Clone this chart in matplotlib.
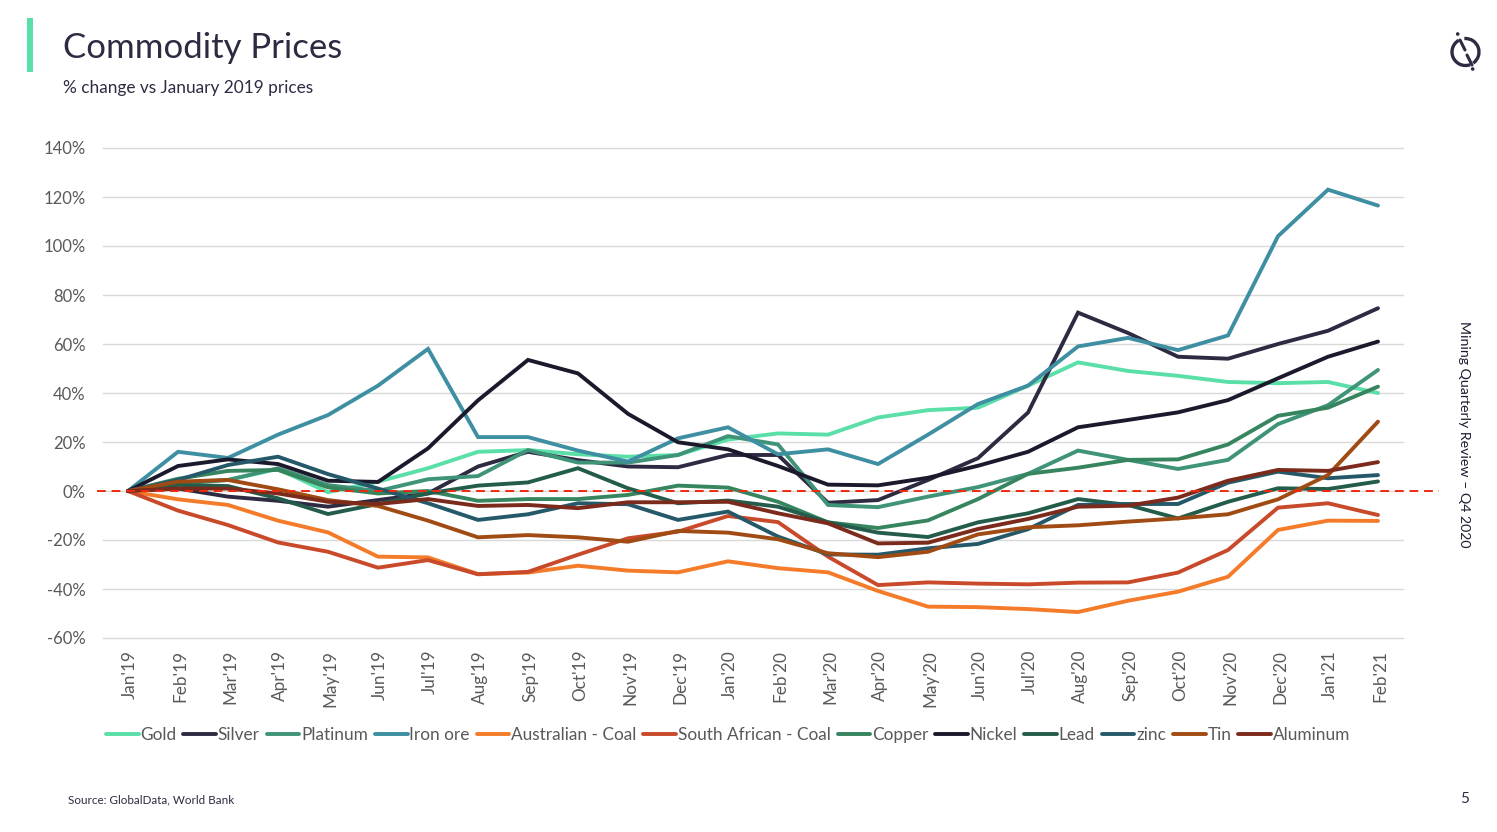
import matplotlib
matplotlib.use("Agg")
import matplotlib.pyplot as plt
from matplotlib.patches import Arc, Rectangle, Circle
from matplotlib.transforms import ScaledTranslation

plt.rcParams['font.family'] = ['Lato', 'DejaVu Sans']

months = ["Jan'19","Feb'19","Mar'19","Apr'19","May'19","Jun'19","Jul'19","Aug'19","Sep'19","Oct'19","Nov'19","Dec'19",
          "Jan'20","Feb'20","Mar'20","Apr'20","May'20","Jun'20","Jul'20","Aug'20","Sep'20","Oct'20","Nov'20","Dec'20","Jan'21","Feb'21"]

gold = [0,3.5,4.5,9,-0.5,3.8,9.3,16,16.7,15,14,14.7,21,23.5,23,30,33,34,43,52.5,49,47,44.5,44,44.5,40]
silver = [0,1,-2.3,-4,-6.4,-3.7,-1,10,16,12.6,10,9.7,14.7,14.7,-4.8,-3.7,4.5,13.4,32,72.8,64.5,54.8,54,60,65.4,74.6]
platinum = [0,3,4.5,9.3,2.4,0,4.8,6.1,16.7,11.6,11.6,14.7,22.4,19,-5.7,-6.6,-2.3,1.6,7,16.5,12.7,9,12.7,27.3,35,49.4]
iron_ore = [0,16,13.5,23,31,43,58,22,22,16.5,12,21.5,26,15,17,11,23,35.5,43,59,62.5,57.5,63.5,104,123,116.5]
aus_coal = [0,-3.4,-5.7,-12.1,-16.9,-26.8,-27.1,-33.9,-33.3,-30.5,-32.5,-33.2,-28.7,-31.5,-33.2,-40.8,-47.2,-47.4,-48.2,-49.4,-44.8,-41.1,-35,-15.9,-12.1,-12.2]
sa_coal = [0,-8,-13.9,-21,-24.8,-31.3,-28.2,-34,-33,-26,-19.3,-16.6,-10.2,-12.7,-26.8,-38.4,-37.3,-37.8,-38.1,-37.4,-37.3,-33.3,-24.1,-6.8,-5,-9.8]
copper = [0,5,8.2,8.6,1.5,-1,0,-4,-3.3,-3.3,-1.6,2.2,1.4,-4.4,-12.8,-15.1,-12,-3.3,7,9.5,12.7,12.9,19,30.7,34,42.6]
nickel = [0,10.2,12.9,11,4.2,3.7,17.4,37,53.5,48,31.5,19.9,17,10.2,2.6,2.3,5.4,10.3,16,26,29,32.1,37.1,46,54.8,61]
lead = [0,2.5,2,-3,-9.4,-5.3,-1,2.2,3.5,9.3,1.1,-5,-3.9,-6.4,-12.8,-17,-18.8,-12.8,-9.1,-3.3,-5.7,-11.2,-4.4,1.1,0.8,3.9]
zinc = [0,4.5,10.6,14,6.9,1,-5,-11.8,-9.5,-5,-5.4,-11.8,-8.4,-18.6,-25.9,-26,-23.4,-21.6,-15.6,-5.7,-5.3,-5.3,3.4,7.9,5.2,6.5]
tin = [0,3.8,4.5,0.7,-3.7,-6.1,-12.1,-18.9,-18,-18.9,-20.7,-16.3,-17,-19.7,-25.4,-27,-24.8,-17.7,-14.8,-14,-12.5,-11.2,-9.5,-3.4,6.5,28.3]
aluminum = [0,1,1,-1,-4.4,-5.3,-3.3,-6.1,-5.7,-7,-4.6,-4.6,-4.4,-9.1,-13.2,-21.4,-21.1,-15.5,-11.4,-6.4,-6,-2.7,4.2,8.6,8.2,11.8]

names = ["Gold","Silver","Platinum","Iron ore","Australian - Coal","South African - Coal","Copper","Nickel","Lead","zinc","Tin","Aluminum"]
series = [gold,silver,platinum,iron_ore,aus_coal,sa_coal,copper,nickel,lead,zinc,tin,aluminum]
colors = ["#5ADFA8","#2E2A42","#3F9379","#3F8FA3","#F47B2A","#C94A2B","#36855F","#1A1A2C","#245C4B","#25596A","#A04B14","#7B2A1B"]
yticks = list(range(-60,141,20))

W, H = 1497, 832
fig = plt.figure(figsize=(W/100, H/100), dpi=100, facecolor="white")

# page furniture, in pixel coordinates
pg = fig.add_axes([0,0,1,1], zorder=0)
pg.set_xlim(0,W); pg.set_ylim(H,0); pg.axis("off")
pg.add_patch(Rectangle((27,18),6,54,color="#5ADFA8",lw=0))
pg.text(63,47.5,"Commodity Prices",fontsize=25,color="#2E2A42",va="center",ha="left")
pg.text(63,88,"% change vs January 2019 prices",fontsize=12.4,color="#2E2A42",va="center",ha="left")
pg.text(68,800,"Source: GlobalData, World Bank",fontsize=8.4,color="#2E2A42",va="center",ha="left")
pg.text(1465,799,"5",fontsize=11,color="#2E2A42",va="center",ha="center")
pg.text(1464,434,"Mining Quarterly Review – Q4 2020",fontsize=10.2,color="#1F1C30",rotation=270,va="center",ha="center")
lc = "#2E2A42"
cx, cy = 1465.5, 52
pg.add_patch(Arc((cx,cy),27,27,theta1=-95,theta2=55,lw=2.4,color=lc))
pg.add_patch(Arc((cx,cy),27,27,theta1=70,theta2=240,lw=2.4,color=lc))
pg.plot([1460,1465],[40,50],color=lc,lw=2.2,solid_capstyle="round")
pg.plot([1467,1472],[55,65],color=lc,lw=2.2,solid_capstyle="round")
pg.add_patch(Circle((1457.7,34),1.8,color=lc,lw=0))
pg.add_patch(Circle((1472.7,69),1.8,color=lc,lw=0))

ax = fig.add_axes([103/W, 1-638/H, 1300/W, 490/H], zorder=1)
ax.patch.set_alpha(0)
for vals, c, n in zip(series, colors, names):
    ax.plot(months, vals, color=c, lw=2.8, label=n, solid_capstyle="round", solid_joinstyle="miter")
ax.set_xlim(-0.5, 25.5)
ax.set_ylim(-60, 140)
ax.set_yticks(yticks)
ax.set_yticklabels([f"{v}%" for v in yticks])
ax.grid(axis="y", color="#D9D9D9", lw=1)
for gl in ax.get_ygridlines():
    gl.set_clip_on(False)
ax.set_axisbelow(True)
for s in ax.spines.values():
    s.set_visible(False)
ax.tick_params(length=0)
ax.tick_params(axis="y", labelsize=12, labelcolor="#595959", pad=12.5)
ax.tick_params(axis="x", labelsize=12.3, labelcolor="#595959", pad=8.5, labelrotation=90)
shift = ScaledTranslation(2/100, 0, fig.dpi_scale_trans)
for lab in ax.get_xticklabels():
    lab.set_transform(lab.get_transform() + shift)
ax.plot([-0.62, 26.22], [0, 0], color="#EE2A10", lw=1.4, ls=(0,(4.5,3)), clip_on=False, zorder=5)
ax.set_xlim(-0.5, 25.5)

ax.legend(loc="center", bbox_to_anchor=(728/W, 1-735/H), bbox_transform=fig.transFigure, ncols=12,
          frameon=False, fontsize=12.4, labelcolor="#595959", handlelength=1.9, handletextpad=0.1,
          columnspacing=0.40, borderpad=0, borderaxespad=0)

fig.savefig("out.png", dpi=100, facecolor="white")
